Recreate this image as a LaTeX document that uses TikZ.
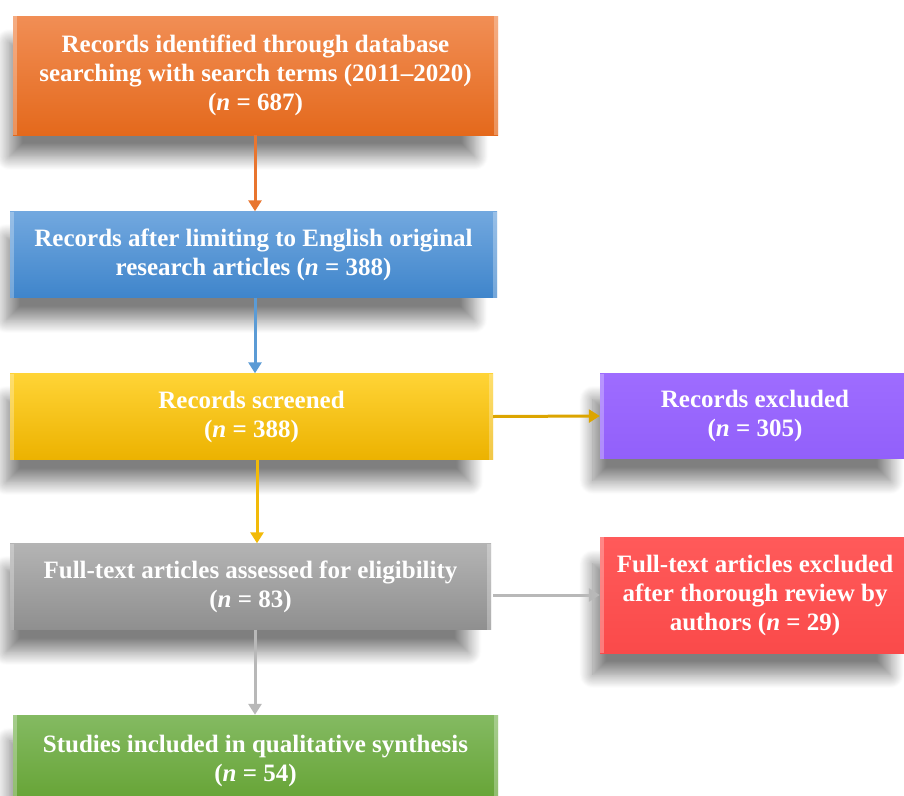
\documentclass[tikz,border=0pt]{standalone}
\usepackage{fontspec}
\setmainfont{Liberation Serif}
\usetikzlibrary{arrows.meta,shadows.blur}
\definecolor{orT}{HTML}{F18E55}\definecolor{orB}{HTML}{E4691C}
\definecolor{blT}{HTML}{72A8DF}\definecolor{blB}{HTML}{3F85CB}
\definecolor{yeT}{HTML}{FFD436}\definecolor{yeB}{HTML}{ECB200}
\definecolor{puT}{HTML}{9E6CFF}\definecolor{puB}{HTML}{9260FA}
\definecolor{grT}{HTML}{B4B4B4}\definecolor{grB}{HTML}{8F8F8F}
\definecolor{reT}{HTML}{FF5A5A}\definecolor{reB}{HTML}{FA4A4A}
\definecolor{gnT}{HTML}{84BA62}\definecolor{gnB}{HTML}{64A232}
\definecolor{arOr}{HTML}{E8752F}\definecolor{arBl}{HTML}{5B9BD5}
\definecolor{arYe}{HTML}{F2BA08}\definecolor{arYe2}{HTML}{DCA500}
\definecolor{arGr}{HTML}{B8B8B8}
\tikzset{
  box/.style={rectangle, text=white, align=center, inner sep=0pt,
    font=\bfseries\fontsize{25}{29}\selectfont,
    blur shadow={shadow xshift=-14pt, shadow yshift=-25pt, shadow scale=0.96,
      shadow opacity=50, shadow blur radius=14pt, shadow blur steps=16},
    path picture={
      \fill[white,opacity=0.28] (path picture bounding box.north west) rectangle ([xshift=4pt]path picture bounding box.south west);
      \fill[white,opacity=0.28] (path picture bounding box.north east) rectangle ([xshift=-4pt]path picture bounding box.south east);
    }},
  conn/.style={line width=3pt, -{Triangle[width=13pt,length=11pt]}}
}
\begin{document}
\begin{tikzpicture}[x=1pt,y=-1pt]
\useasboundingbox (0,0) rectangle (904,795);
\node[box, top color=orT, bottom color=orB, minimum width=485pt, minimum height=119pt] (n1) at (255.5,75.5)
  {Records identified through database\\searching with search terms (2011--2020)\\(\textit{n} = 687)};
\node[box, top color=blT, bottom color=blB, minimum width=487pt, minimum height=86pt] (n2) at (253.5,254.5)
  {Records after limiting to English original\\research articles (\textit{n} = 388)};
\node[box, top color=yeT, bottom color=yeB, minimum width=483pt, minimum height=86pt] (n3) at (251.5,416.5)
  {Records screened\\(\textit{n} = 388)};
\node[box, top color=puT, bottom color=puB, minimum width=310pt, minimum height=85pt] (n4) at (755,416)
  {Records excluded\\(\textit{n} = 305)};
\node[box, top color=grT, bottom color=grB, minimum width=481pt, minimum height=86pt] (n5) at (250.5,586.5)
  {Full-text articles assessed for eligibility\\(\textit{n} = 83)};
\node[box, top color=reT, bottom color=reB, minimum width=310pt, minimum height=116pt] (n6) at (755,595)
  {Full-text articles excluded\\after thorough review by\\authors (\textit{n} = 29)};
\node[box, top color=gnT, bottom color=gnB, minimum width=485pt, minimum height=92pt] (n7) at (255.5,761)
  {Studies included in qualitative synthesis\\(\textit{n} = 54)};
\draw[conn, arOr] ([xshift=-0.5pt]n1.south) -- ([xshift=-0.5pt]n1.south |- n2.north);
\draw[conn, arBl] ([xshift=1.5pt]n2.south) -- ([xshift=1.5pt]n2.south |- n3.north);
\draw[conn, arYe] ([xshift=5.5pt]n3.south) -- ([xshift=5.5pt]n3.south |- n5.north);
\draw[conn, arYe2] (n3.east) -- (n4.west);
\draw[conn, arGr] ([xshift=2pt]n5.east |- n6.west) -- (n6.west);
\draw[conn, arGr] ([xshift=4.5pt]n5.south) -- ([xshift=4.5pt]n5.south |- n7.north);
\end{tikzpicture}
\end{document}
